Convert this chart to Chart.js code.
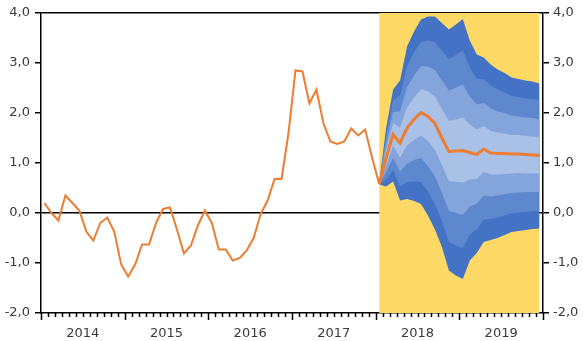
<!DOCTYPE html>
<html>
<head>
<meta charset="utf-8">
<script src="https://cdn.jsdelivr.net/npm/chart.js@4/dist/chart.umd.min.js"></script>
<style>
  html, body { margin: 0; padding: 0; background: #fff; }
  #chart { display: block; }
</style>
</head>
<body>
<canvas id="chart" width="583" height="341"></canvas>
<script>
// year labels, one per 12 months (Jan 2014 .. Dec 2019)
const years = ['2014', '2015', '2016', '2017', '2018', '2019'];
const yTicks = [-2, -1, 0, 1, 2, 3, 4];

// monthly outcome, Jan 2014 .. Jan 2018
const history = [0.2, 0.0, -0.15, 0.35, 0.2, 0.05, -0.37, -0.55, -0.2, -0.09, -0.37, -1.03,
  -1.27, -1.03, -0.63, -0.63, -0.2, 0.08, 0.11, -0.33, -0.81, -0.65, -0.25, 0.05,
  -0.2, -0.73, -0.73, -0.95, -0.9, -0.75, -0.5, -0.02, 0.25, 0.68, 0.68, 1.6,
  2.85, 2.83, 2.19, 2.47, 1.8, 1.43, 1.38, 1.43, 1.69, 1.55, 1.67, 1.1,
  0.58];

// forecast, Jan 2018 .. Dec 2019
const forecast = [0.58, 1.1, 1.57, 1.4, 1.7, 1.87, 2.01, 1.93, 1.79, 1.5, 1.23, 1.24,
  1.25, 1.21, 1.17, 1.28, 1.2, 1.19, 1.19, 1.18, 1.18, 1.17, 1.16, 1.15];

// fan bands, outer to inner
const fanUpper = [0.6, 1.7, 2.47, 2.65, 3.33, 3.63, 3.87, 3.93, 3.93, 3.8, 3.67, 3.77,
  3.88, 3.45, 3.17, 3.11, 2.97, 2.87, 2.8, 2.71, 2.68, 2.65, 2.63, 2.59];
const fanLower = [0.57, 0.53, 0.63, 0.25, 0.28, 0.24, 0.18, -0.05, -0.33, -0.68, -1.15, -1.25,
  -1.32, -0.95, -0.8, -0.58, -0.54, -0.5, -0.44, -0.38, -0.36, -0.34, -0.32, -0.31];
const band1Upper = [0.6, 1.56, 2.25, 2.35, 2.94, 3.21, 3.42, 3.45, 3.42, 3.25, 3.08, 3.16,
  3.25, 2.91, 2.69, 2.67, 2.55, 2.47, 2.41, 2.34, 2.32, 2.29, 2.28, 2.26];
const band1Lower = [0.58, 0.67, 0.86, 0.53, 0.62, 0.63, 0.62, 0.43, 0.18, -0.16, -0.58, -0.65,
  -0.7, -0.43, -0.33, -0.13, -0.12, -0.09, -0.05, -0.01, 0.01, 0.02, 0.04, 0.04];
const band2Upper = [0.6, 1.4, 2.02, 2.03, 2.52, 2.75, 2.94, 2.93, 2.86, 2.65, 2.45, 2.51,
  2.57, 2.33, 2.17, 2.2, 2.09, 2.03, 2.0, 1.95, 1.93, 1.91, 1.9, 1.87];
const band2Lower = [0.59, 0.82, 1.1, 0.83, 0.99, 1.06, 1.1, 0.94, 0.73, 0.41, 0.04, 0.0,
  -0.04, 0.13, 0.19, 0.35, 0.33, 0.35, 0.38, 0.4, 0.41, 0.42, 0.42, 0.42];
const band3Upper = [0.6, 1.25, 1.8, 1.71, 2.11, 2.31, 2.48, 2.43, 2.33, 2.08, 1.84, 1.87,
  1.91, 1.77, 1.67, 1.74, 1.64, 1.61, 1.59, 1.56, 1.56, 1.54, 1.53, 1.51];
const band3Lower = [0.59, 0.96, 1.34, 1.11, 1.35, 1.46, 1.55, 1.44, 1.26, 0.96, 0.64, 0.62,
  0.61, 0.67, 0.68, 0.82, 0.77, 0.77, 0.78, 0.79, 0.8, 0.79, 0.79, 0.79];

const forecastStart = history.length - 1;
const toPoints = (arr, start) => arr.map((v, i) => ({ x: start + i + 0.5, y: v }));
const topOfScale = forecast.map(() => yTicks[yTicks.length - 1]);

const fmt = v => v.toFixed(1).replace('.', ',');
const labelFont = { family: 'DejaVu Sans', size: 13 };
const labelColor = '#3a3a3a';

function band(data, fillTo, color) {
  return {
    data: toPoints(data, forecastStart),
    borderWidth: 0,
    pointRadius: 0,
    backgroundColor: color,
    fill: fillTo,
    tension: 0
  };
}
function edge(data) {
  return {
    data: toPoints(data, forecastStart),
    borderWidth: 0,
    pointRadius: 0,
    fill: false
  };
}

// small monthly tick marks under the x axis, longer at year breaks
const monthTicks = {
  id: 'monthTicks',
  afterDraw(chart) {
    const xs = chart.scales.x;
    const ctx = chart.ctx;
    const y0 = chart.chartArea.bottom;
    ctx.save();
    ctx.strokeStyle = '#000';
    ctx.lineWidth = 1.5;
    for (let i = 0; i <= years.length * 12; i++) {
      const px = Math.round(xs.getPixelForValue(i)) + 0.5;
      const len = i % 12 === 0 ? 7 : 4;
      ctx.beginPath();
      ctx.moveTo(px, y0);
      ctx.lineTo(px, y0 + len);
      ctx.stroke();
    }
    ctx.restore();
  }
};

const ctx = document.getElementById('chart').getContext('2d');
new Chart(ctx, {
  type: 'line',
  data: {
    datasets: [
      { data: toPoints(forecast, forecastStart), borderColor: '#ED7D31', borderWidth: 3, pointRadius: 0, fill: false },
      { data: toPoints(history, 0), borderColor: '#ED7D31', borderWidth: 2, pointRadius: 0, fill: false },
      band(band3Upper, 3, '#A9C0E7'),
      edge(band3Lower),
      band(band2Upper, 5, '#84A4DC'),
      edge(band2Lower),
      band(band1Upper, 7, '#5E88CE'),
      edge(band1Lower),
      band(fanUpper, 9, '#4472C4'),
      edge(fanLower),
      {
        data: toPoints(topOfScale, forecastStart),
        borderWidth: 0,
        pointRadius: 0,
        backgroundColor: '#FFD966',
        fill: 'start'
      }
    ]
  },
  options: {
    responsive: false,
    animation: false,
    layout: { padding: { top: 13, left: 0, right: 0, bottom: 0 } },
    plugins: {
      legend: { display: false },
      tooltip: { enabled: false }
    },
    scales: {
      x: {
        type: 'linear',
        min: 0,
        max: years.length * 12,
        z: 1,
        afterBuildTicks: scale => {
          scale.ticks = Array.from({ length: years.length * 12 + 1 }, (_, i) => ({ value: i }));
        },
        afterFit: scale => { scale.height = 28; },
        ticks: {
          autoSkip: false,
          maxRotation: 0,
          minRotation: 0,
          padding: 5,
          font: labelFont,
          color: labelColor,
          callback: v => (v % 12 === 6 ? years[(v - 6) / 12] : '')
        },
        grid: { display: false },
        border: { display: true, color: '#000', width: 1.5 }
      },
      y: {
        position: 'left',
        min: -2,
        max: 4,
        z: 1,
        afterBuildTicks: scale => { scale.ticks = yTicks.map(v => ({ value: v })); },
        afterFit: scale => { scale.width = 41; },
        ticks: { padding: 5, font: labelFont, color: labelColor, callback: fmt },
        grid: {
          color: c => (c.tick && (c.tick.value === 0 || c.tick.value === 4) ? '#000' : 'rgba(0,0,0,0)'),
          tickColor: '#000',
          tickLength: 6,
          lineWidth: 1.5
        },
        border: { display: true, color: '#000', width: 1.5 }
      },
      y2: {
        position: 'right',
        min: -2,
        max: 4,
        z: 1,
        afterBuildTicks: scale => { scale.ticks = yTicks.map(v => ({ value: v })); },
        afterFit: scale => { scale.width = 40; },
        ticks: { padding: 4, font: labelFont, color: labelColor, callback: fmt },
        grid: { drawOnChartArea: false, tickColor: '#000', tickLength: 6, lineWidth: 1.5 },
        border: { display: true, color: '#000', width: 1.5 }
      }
    }
  },
  plugins: [monthTicks]
});
</script>
</body>
</html>
